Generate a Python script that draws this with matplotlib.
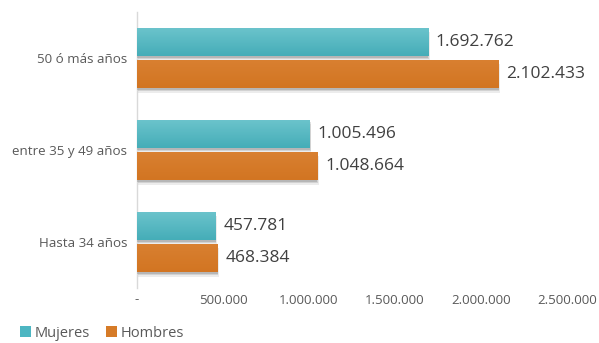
import matplotlib.pyplot as plt
import matplotlib.patheffects as pe
from matplotlib.patches import Patch
from matplotlib.colors import LinearSegmentedColormap
import numpy as np

categories = ["Hasta 34 años", "entre 35 y 49 años", "50 ó más años"]
mujeres = [457781, 1005496, 1692762]
hombres = [468384, 1048664, 2102433]
xticks = [0, 500000, 1000000, 1500000, 2000000, 2500000]
xtick_labels = ["-", "500.000", "1.000.000", "1.500.000", "2.000.000", "2.500.000"]

c_muj = "#4DB6C2"
c_hom = "#D67B28"
grad_muj = ("#45ADB8", "#6CC4CC")
grad_hom = ("#D27522", "#D98031")

FONT = "Open Sans"

def fmt(v):
    return f"{v:,}".replace(",", ".")

fig = plt.figure(figsize=(5.99, 3.43), dpi=100)
ax = fig.add_axes([137/599, 1 - 288/343, (567-137)/599, 276/343])

y = np.arange(len(categories))
h = 0.31
off = 0.175
# soft drop shadow built from a few stacked translucent offsets
shadow = [pe.SimplePatchShadow(offset=(1.0, -3.0), shadow_rgbFace="#999999", alpha=0.18),
          pe.SimplePatchShadow(offset=(0.5, -2.0), shadow_rgbFace="#888888", alpha=0.25),
          pe.SimplePatchShadow(offset=(0.0, -1.0), shadow_rgbFace="#777777", alpha=0.3),
          pe.Normal()]

def draw_bars(ypos, vals, color, grad):
    bars = ax.barh(ypos, vals, height=h, color=color, path_effects=shadow, zorder=3)
    cmap = LinearSegmentedColormap.from_list("g", list(grad))
    gradient = np.linspace(0, 1, 64).reshape(-1, 1)
    for b in bars:
        x0, y0 = b.get_x(), b.get_y()
        im = ax.imshow(gradient, cmap=cmap, aspect="auto", origin="lower",
                       extent=(x0, x0 + b.get_width(), y0, y0 + b.get_height()),
                       zorder=4)
        im.set_clip_path(b)
    return bars

draw_bars(y + off, mujeres, c_muj, grad_muj)
draw_bars(y - off, hombres, c_hom, grad_hom)

for yy, v in zip(y + off, mujeres):
    ax.text(v + 45000, yy, fmt(v), va="center", ha="left", fontsize=12.5,
            color="#404040", family=FONT, zorder=5)
for yy, v in zip(y - off, hombres):
    ax.text(v + 45000, yy, fmt(v), va="center", ha="left", fontsize=12.5,
            color="#404040", family=FONT, zorder=5)

ax.set_xlim(0, 2500000)
ax.set_ylim(-0.5, 2.5)
ax.set_xticks(xticks)
ax.set_xticklabels(xtick_labels, fontsize=9.5, color="#595959", family=FONT)
ax.set_yticks(y)
ax.set_yticklabels(categories, fontsize=9.6, color="#595959", family=FONT)
ax.tick_params(axis="y", length=0, pad=7)
ax.tick_params(axis="x", length=0, pad=4)
for s in ["top", "right", "bottom"]:
    ax.spines[s].set_visible(False)
ax.spines["left"].set_color("#D9D9D9")
ax.spines["left"].set_linewidth(1)

handles = [Patch(facecolor=c_muj), Patch(facecolor=c_hom)]
leg = fig.legend(handles, ["Mujeres", "Hombres"], loc="lower left",
                 bbox_to_anchor=(0.012, -0.032), ncol=2, frameon=False,
                 prop={"family": FONT, "size": 10.5},
                 handlelength=0.75, handleheight=0.75, handletextpad=0.25,
                 columnspacing=1.1)
for t in leg.get_texts():
    t.set_color("#595959")

fig.savefig("out.png", dpi=100)
